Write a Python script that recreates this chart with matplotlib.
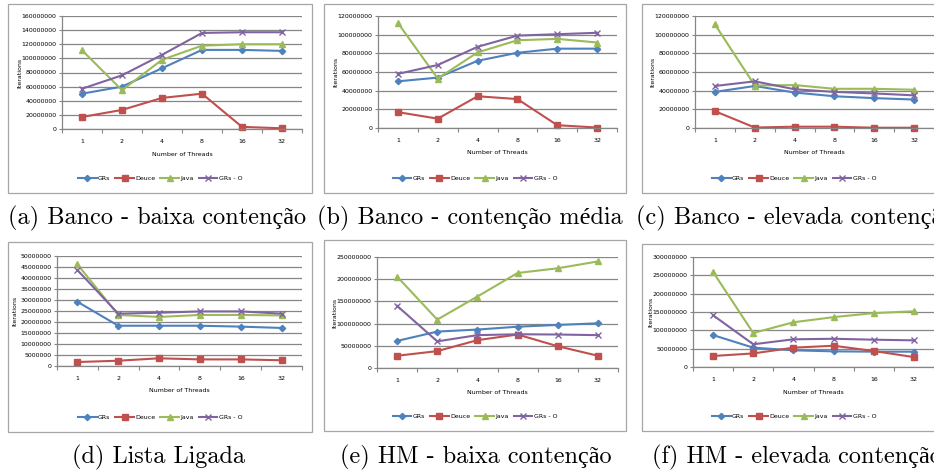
import matplotlib
matplotlib.use("Agg")
import matplotlib.pyplot as plt
import numpy as np
from matplotlib.patches import Rectangle
from matplotlib.ticker import FuncFormatter

plt.rcParams['font.family'] = ['Liberation Sans Narrow', 'DejaVu Sans']

threads = ["1", "2", "4", "8", "16", "32"]
series_names = ["GRs", "Deuce", "Java", "GRs - O"]

# (a) Banco - baixa contencao
a_grs = [50e6, 60e6, 86e6, 112e6, 112e6, 110.6e6]
a_deuce = [17e6, 27e6, 44e6, 50e6, 3e6, 1e6]
a_java = [111.5e6, 55e6, 98e6, 118e6, 120e6, 120e6]
a_grso = [57e6, 76e6, 105e6, 136e6, 137e6, 137e6]

# (b) Banco - contencao media
b_grs = [50e6, 54e6, 72e6, 80.6e6, 85e6, 85e6]
b_deuce = [17e6, 10e6, 34e6, 31e6, 3e6, 0.5e6]
b_java = [112.5e6, 53e6, 81e6, 94e6, 95.5e6, 91.6e6]
b_grso = [58e6, 67.5e6, 87e6, 99e6, 100.5e6, 102e6]

# (c) Banco - elevada contencao
c_grs = [38.7e6, 45e6, 38e6, 34e6, 32e6, 30.5e6]
c_deuce = [18e6, 0.5e6, 1.4e6, 1.4e6, 0.3e6, 0.3e6]
c_java = [111e6, 45.5e6, 46e6, 42e6, 42e6, 41e6]
c_grso = [45e6, 50e6, 41.5e6, 38.7e6, 37e6, 35e6]

# (d) Lista Ligada
d_grs = [29.2e6, 18.3e6, 18.3e6, 18.3e6, 17.9e6, 17.3e6]
d_deuce = [1.8e6, 2.4e6, 3.5e6, 3e6, 3e6, 2.6e6]
d_java = [46.2e6, 23.2e6, 22.3e6, 23.2e6, 23.2e6, 23e6]
d_grso = [43.6e6, 23.8e6, 24.2e6, 24.8e6, 24.8e6, 23.8e6]

# (e) HM - baixa contencao
e_grs = [61e6, 82e6, 86.6e6, 93e6, 97e6, 100.7e6]
e_deuce = [27.6e6, 38e6, 62.7e6, 75.4e6, 49e6, 27.6e6]
e_java = [206e6, 109e6, 161e6, 214e6, 224.6e6, 240e6]
e_grso = [140e6, 60e6, 74e6, 76e6, 75.4e6, 74e6]

# (f) HM - elevada contencao
f_grs = [87e6, 52.7e6, 45.5e6, 42.7e6, 41.8e6, 41.8e6]
f_deuce = [30e6, 37e6, 52.7e6, 58e6, 43.6e6, 27e6]
f_java = [259e6, 92.7e6, 122e6, 136e6, 147e6, 152e6]
f_grso = [141e6, 62e6, 75.5e6, 77e6, 74.5e6, 72.7e6]

captions = ["(a) Banco - baixa contenção", "(b) Banco - contenção média",
            "(c) Banco - elevada contenção", "(d) Lista Ligada",
            "(e) HM - baixa contenção", "(f) HM - elevada contenção"]

colors = ["#4F81BD", "#C0504D", "#9BBB59", "#8064A2"]
markers = ["D", "s", "^", "x"]
msizes = [3.2, 4.0, 4.0, 4.5]

W, H = 934, 472


def fx(x):
    return x / W


def fy(y):
    return 1 - y / H


def draw_panel(fig, box, plot, data, ymax, ystep, caption, cap_xy):
    x0, y0, x1, y1 = box
    fig.add_artist(Rectangle((fx(x0), fy(y1)), (x1 - x0) / W, (y1 - y0) / H,
                             transform=fig.transFigure, fill=False,
                             ec="#a6a6a6", lw=0.9))
    px0, py0, px1, py1 = plot
    ax = fig.add_axes([fx(px0), fy(py1), (px1 - px0) / W, (py1 - py0) / H])
    x = np.arange(len(threads))
    for vals, name, c, m, ms in zip(data, series_names, colors, markers, msizes):
        ax.plot(x, vals, color=c, marker=m, ms=ms, lw=1.5, label=name,
                mec=c, mew=1.0, clip_on=False)
    ax.set_xlim(-0.5, len(threads) - 0.5)
    ax.set_ylim(0, ymax)
    ax.set_yticks(np.arange(0, ymax + 1, ystep))
    ax.yaxis.set_major_formatter(FuncFormatter(lambda v, p: f"{int(round(v))}"))
    ax.set_xticks(x)
    ax.set_xticklabels(threads)
    ax.set_xticks(np.arange(-0.5, len(threads), 1), minor=True)
    ax.tick_params(axis='x', which='major', length=0, labelsize=4.5, pad=7)
    ax.tick_params(axis='x', which='minor', length=3, color="#868686", width=0.8)
    ax.tick_params(axis='y', length=2.5, color="#868686", width=0.8,
                   labelsize=4.5, pad=1.5)
    ax.grid(axis='y', color="#868686", lw=0.9)
    ax.set_axisbelow(True)
    for s in ["top", "right"]:
        ax.spines[s].set_visible(False)
    for s in ["left", "bottom"]:
        ax.spines[s].set_color("#868686")
        ax.spines[s].set_linewidth(0.9)
    ax.set_ylabel("Iterations", fontsize=4.5)
    ax.yaxis.set_label_coords(-40 / (px1 - px0), 0.5)
    fig.text(fx((px0 + px1) / 2), fy(py1 + 25), "Number of Threads",
             fontsize=4.5, ha="center", va="center")
    ax.legend(loc="center", bbox_to_anchor=(fx((x0 + x1) / 2), fy(y1 - 15)),
              bbox_transform=fig.transFigure, ncol=4, frameon=False,
              fontsize=4.5, handlelength=3, columnspacing=0.8,
              handletextpad=0.2, borderpad=0)
    fig.text(fx(cap_xy[0]), fy(cap_xy[1]), caption, fontsize=17.5,
             family=["cmr10", "Liberation Serif"], ha="center", va="center")
    return ax


fig = plt.figure(figsize=(W / 100, H / 100), dpi=100)

draw_panel(fig, (8, 4, 312, 193), (62, 16, 302, 129),
           [a_grs, a_deuce, a_java, a_grso], 160e6, 20e6, captions[0], (157, 218))
draw_panel(fig, (324, 4, 626, 193), (378, 16, 617, 128),
           [b_grs, b_deuce, b_java, b_grso], 120e6, 20e6, captions[1], (470, 218))
draw_panel(fig, (642, 4, 946, 193), (695, 16, 934, 128),
           [c_grs, c_deuce, c_java, c_grso], 120e6, 20e6, captions[2], (795, 218))
draw_panel(fig, (8, 242, 312, 432), (57, 256, 302, 366),
           [d_grs, d_deuce, d_java, d_grso], 50e6, 5e6, captions[3], (159, 457))
draw_panel(fig, (324, 240, 626, 431), (377, 257, 618, 368),
           [e_grs, e_deuce, e_java, e_grso], 250e6, 50e6, captions[4], (476, 457))
draw_panel(fig, (642, 244, 946, 431), (693, 257, 934, 367),
           [f_grs, f_deuce, f_java, f_grso], 300e6, 50e6, captions[5], (797, 457))

fig.savefig("out.png", dpi=100)
